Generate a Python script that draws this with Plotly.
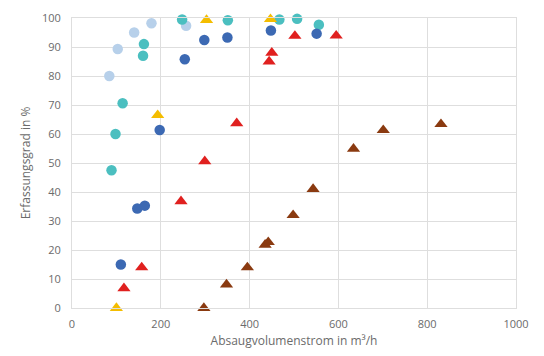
import plotly.graph_objects as go

# Light blue circles
lb_x = [84, 103, 140, 179, 257]
lb_y = [80, 89.3, 95, 98.2, 97.3]
# Teal circles
tl_x = [89, 98, 114, 160, 162, 248, 351, 467, 507, 556]
tl_y = [47.5, 60, 70.6, 87, 91, 99.5, 99.2, 99.5, 99.7, 97.7]
# Dark blue circles
db_x = [110, 147, 164, 197.5, 254, 298, 350, 448, 551]
db_y = [15, 34.3, 35.3, 61.4, 85.8, 92.4, 93.3, 95.7, 94.6]
# Yellow triangles
ye_x = [100, 193, 303, 447]
ye_y = [0, 66.5, 99.3, 99.6]
# Red triangles
rd_x = [117, 157, 245.5, 299, 371, 444, 450, 502, 595]
rd_y = [6.8, 14, 36.8, 50.6, 63.7, 85, 88, 93.8, 93.9]
# Brown triangles
br_x = [297, 348, 395, 435, 442, 498, 543, 634, 701, 831]
br_y = [0, 8.1, 14, 21.8, 22.7, 32, 41, 54.9, 61.3, 63.4]

x_ticks = [0, 200, 400, 600, 800, 1000]
y_ticks = [0, 10, 20, 30, 40, 50, 60, 70, 80, 90, 100]

series = [
    (lb_x, lb_y, "circle", "#b7d0ea", 10.5),
    (tl_x, tl_y, "circle", "#4bbfc0", 10.5),
    (db_x, db_y, "circle", "#3c69b3", 10.5),
    (ye_x, ye_y, "triangle-up", "#f4bd00", 11.5),
    (rd_x, rd_y, "triangle-up", "#e0201f", 11.5),
    (br_x, br_y, "triangle-up", "#8a3a10", 11.5),
]

fig = go.Figure()
for xs, ys, sym, col, sz in series:
    fig.add_trace(go.Scatter(
        x=xs, y=ys, mode="markers", cliponaxis=False, showlegend=False,
        marker=dict(symbol=sym, color=col, size=sz, line=dict(width=0)),
    ))

font_col = "#6b6b6b"
fig.update_layout(
    width=544, height=356,
    margin=dict(l=72, r=28, t=18, b=48),
    paper_bgcolor="white", plot_bgcolor="white",
    font=dict(family="Open Sans, Liberation Sans, sans-serif", size=11, color=font_col),
)
fig.update_xaxes(
    range=[0, 1000], tickvals=x_ticks, ticks="", showgrid=True, gridcolor="#dedede",
    gridwidth=1, zeroline=False, showline=True, linecolor="#dedede", mirror=True,
    ticklabelstandoff=6, automargin=False,
    title=dict(text="Absaugvolumenstrom in m³/h", font=dict(size=12, color=font_col), standoff=6),
    tickfont=dict(size=11, color=font_col),
)
fig.update_yaxes(
    range=[0, 100], tickvals=y_ticks, ticks="", showgrid=True, gridcolor="#dedede",
    gridwidth=1, zeroline=False, showline=True, linecolor="#dedede", mirror=True,
    ticklabelstandoff=8, automargin=False,
    title=dict(text="Erfassungsgrad in %", font=dict(size=12, color=font_col), standoff=8),
    tickfont=dict(size=11, color=font_col),
)
fig.write_html("out.html")
